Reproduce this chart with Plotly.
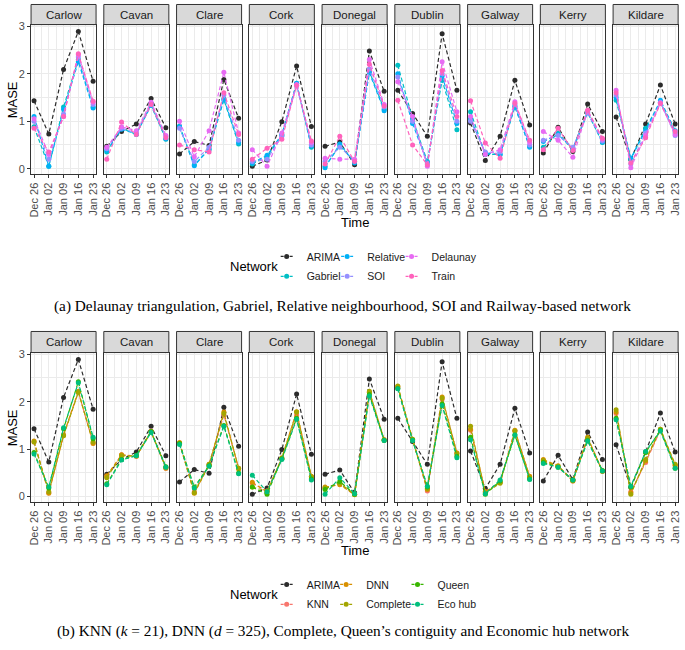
import plotly.graph_objects as go

W, H = 685, 650

DATES = ["Dec 26", "Jan 02", "Jan 09", "Jan 16", "Jan 23"]
DAY = [0, 7, 14, 21, 28]
COUNTIES = ["Carlow", "Cavan", "Clare", "Cork", "Donegal", "Dublin", "Galway", "Kerry", "Kildare"]

# ---- values (rows follow COUNTIES, columns follow DATES) ----
ARIMA = [
    [1.43, 0.73, 2.09, 2.89, 1.84],
    [0.47, 0.78, 0.94, 1.48, 0.86],
    [0.31, 0.57, 0.49, 1.88, 1.06],
    [0.05, 0.18, 0.99, 2.16, 0.89],
    [0.47, 0.56, 0.08, 2.48, 1.63],
    [1.65, 1.16, 0.68, 2.84, 1.65],
    [0.96, 0.17, 0.68, 1.86, 0.92],
    [0.33, 0.87, 0.36, 1.36, 0.78],
    [1.09, 0.19, 0.94, 1.76, 0.94],
]
GABRIEL = [
    [0.88, 0.05, 1.30, 2.30, 1.30],
    [0.35, 0.85, 0.72, 1.35, 0.62],
    [0.90, 0.08, 0.40, 1.45, 0.52],
    [0.10, 0.25, 0.70, 1.80, 0.45],
    [0.05, 0.48, 0.15, 2.05, 1.25],
    [2.18, 1.05, 0.15, 1.86, 0.82],
    [1.20, 0.30, 0.30, 1.30, 0.47],
    [0.45, 0.75, 0.40, 1.18, 0.55],
    [1.44, 0.20, 0.85, 1.40, 0.75],
]
RELATIVE = [
    [1.10, 0.05, 1.25, 2.25, 1.28],
    [0.38, 0.83, 0.73, 1.33, 0.63],
    [0.88, 0.06, 0.42, 1.47, 0.55],
    [0.12, 0.28, 0.72, 1.80, 0.48],
    [0.02, 0.52, 0.12, 2.02, 1.22],
    [2.00, 0.95, 0.12, 1.95, 0.95],
    [1.05, 0.33, 0.30, 1.32, 0.45],
    [0.57, 0.72, 0.42, 1.20, 0.56],
    [1.50, 0.22, 0.80, 1.44, 0.80],
]
SOI = [
    [1.00, 0.20, 1.15, 2.35, 1.35],
    [0.42, 0.85, 0.75, 1.38, 0.68],
    [0.85, 0.15, 0.45, 1.55, 0.60],
    [0.15, 0.20, 0.68, 1.75, 0.50],
    [0.15, 0.45, 0.18, 2.10, 1.30],
    [1.93, 1.00, 0.10, 2.00, 1.00],
    [1.00, 0.35, 0.35, 1.35, 0.50],
    [0.60, 0.70, 0.45, 1.17, 0.58],
    [1.55, 0.10, 0.75, 1.40, 0.70],
]
DELAUNAY = [
    [1.05, 0.30, 1.10, 2.40, 1.40],
    [0.45, 0.88, 0.80, 1.40, 0.70],
    [1.00, 0.25, 0.80, 2.03, 0.75],
    [0.40, 0.05, 0.75, 1.77, 0.55],
    [0.22, 0.20, 0.20, 2.30, 1.35],
    [1.83, 1.10, 0.05, 2.25, 1.20],
    [1.10, 0.30, 0.40, 1.41, 0.55],
    [0.78, 0.60, 0.24, 1.22, 0.62],
    [1.65, 0.02, 0.70, 1.38, 0.72],
]
TRAIN = [
    [0.85, 0.35, 1.10, 2.42, 1.42],
    [0.20, 0.98, 0.72, 1.35, 0.65],
    [0.50, 0.40, 0.35, 1.60, 0.72],
    [0.20, 0.43, 0.62, 1.75, 0.58],
    [0.10, 0.68, 0.15, 2.20, 1.32],
    [1.44, 0.50, 0.08, 2.07, 1.10],
    [1.43, 0.54, 0.22, 1.38, 0.60],
    [0.40, 0.85, 0.38, 1.23, 0.64],
    [1.60, 0.12, 0.65, 1.37, 0.78],
]
KNN = [
    [1.15, 0.08, 1.30, 2.20, 1.13],
    [0.42, 0.88, 0.85, 1.38, 0.60],
    [1.13, 0.10, 0.68, 1.72, 0.60],
    [0.28, 0.12, 0.80, 1.72, 0.42],
    [0.18, 0.27, 0.05, 2.20, 1.20],
    [2.30, 1.20, 0.12, 2.05, 0.92],
    [1.40, 0.10, 0.30, 1.38, 0.42],
    [0.75, 0.63, 0.33, 1.22, 0.54],
    [1.75, 0.10, 0.72, 1.40, 0.65],
]
DNN = [
    [1.17, 0.07, 1.30, 2.22, 1.12],
    [0.44, 0.88, 0.85, 1.37, 0.60],
    [1.14, 0.07, 0.66, 1.78, 0.58],
    [0.30, 0.10, 0.82, 1.79, 0.43],
    [0.20, 0.25, 0.04, 2.20, 1.19],
    [2.32, 1.20, 0.15, 2.10, 0.92],
    [1.42, 0.10, 0.30, 1.40, 0.43],
    [0.78, 0.65, 0.33, 1.25, 0.53],
    [1.78, 0.08, 0.75, 1.42, 0.66],
]
COMPLETE = [
    [1.15, 0.10, 1.28, 2.20, 1.15],
    [0.40, 0.86, 0.86, 1.36, 0.62],
    [1.12, 0.08, 0.68, 1.75, 0.60],
    [0.20, 0.12, 0.80, 1.78, 0.42],
    [0.18, 0.28, 0.05, 2.22, 1.20],
    [2.33, 1.21, 0.17, 2.08, 0.90],
    [1.48, 0.08, 0.28, 1.38, 0.40],
    [0.76, 0.64, 0.34, 1.23, 0.54],
    [1.83, 0.05, 0.78, 1.42, 0.68],
]
QUEEN = [
    [0.93, 0.18, 1.43, 2.42, 1.22],
    [0.27, 0.78, 0.87, 1.37, 0.63],
    [1.12, 0.20, 0.65, 1.50, 0.50],
    [0.20, 0.05, 0.80, 1.65, 0.37],
    [0.15, 0.32, 0.05, 2.15, 1.18],
    [2.28, 1.19, 0.20, 1.95, 0.85],
    [1.25, 0.05, 0.33, 1.30, 0.37],
    [0.72, 0.62, 0.35, 1.18, 0.55],
    [1.65, 0.20, 0.93, 1.40, 0.60],
]
ECO_HUB = [
    [0.90, 0.20, 1.45, 2.40, 1.25],
    [0.25, 0.77, 0.86, 1.35, 0.62],
    [1.10, 0.18, 0.64, 1.48, 0.48],
    [0.45, 0.10, 0.78, 1.63, 0.35],
    [0.05, 0.40, 0.06, 2.12, 1.18],
    [2.27, 1.18, 0.22, 1.92, 0.82],
    [1.20, 0.06, 0.35, 1.30, 0.36],
    [0.70, 0.62, 0.35, 1.17, 0.54],
    [1.62, 0.22, 0.95, 1.38, 0.60],
]

SERIES_A = [("ARIMA", ARIMA, "#2b2b2b"), ("Gabriel", GABRIEL, "#00BFC4"),
            ("Relative", RELATIVE, "#00B0F6"), ("SOI", SOI, "#9590FF"),
            ("Delaunay", DELAUNAY, "#E76BF3"), ("Train", TRAIN, "#FF62BC")]
SERIES_B = [("ARIMA", ARIMA, "#2b2b2b"), ("KNN", KNN, "#F8766D"),
            ("DNN", DNN, "#D89000"), ("Complete", COMPLETE, "#A3A500"),
            ("Queen", QUEEN, "#39B600"), ("Eco hub", ECO_HUB, "#00BF7D")]

# legend layout: (name, text-start px, row y px)
LEG_A = [("ARIMA", 307, 254), ("Gabriel", 307, 274), ("Relative", 368, 254),
         ("SOI", 368, 274), ("Delaunay", 433, 254), ("Train", 433, 274)]
LEG_B = [("ARIMA", 307, 584), ("KNN", 307, 604), ("DNN", 367, 584),
         ("Complete", 367, 604), ("Queen", 439, 584), ("Eco hub", 439, 604)]

SANS = "Liberation Sans, Arial, sans-serif"
SERIF = "Liberation Serif, Times New Roman, serif"

PX0, STEP, PW = 28.3, 73.4, 65.6
YR = [-0.12, 3.035]
XR = [-1.4, 29.4]

PANELS = [
    dict(series=SERIES_A, legend=LEG_A, strip_top=0.5, top=20.7, bottom=171.4,
         title_y=220, net_y=264, cap_y=304,
         caption="(a) Delaunay triangulation, Gabriel, Relative neighbourhood, SOI and Railway-based network"),
    dict(series=SERIES_B, legend=LEG_B, strip_top=329.5, top=350.7, bottom=501.4,
         title_y=550, net_y=594, cap_y=631,
         caption="(b) KNN (<i>k</i> = 21), DNN (<i>d</i> = 325), Complete, Queen\u2019s contiguity and Economic hub network"),
]

fig = go.Figure()
layout = dict(width=W, height=H, margin=dict(l=0, r=0, t=0, b=0),
              paper_bgcolor="white", plot_bgcolor="white",
              font=dict(family=SANS, color="#000000"), showlegend=True)
shapes, annotations = [], []

def px_x(v):
    return v / W

def px_y(v):
    return 1 - v / H

LINE_DASH = "4px,2.5px"
KEY_DASH = "0px,9px,3px,6px,3px,9px"

leg_idx = 0
for p, panel in enumerate(PANELS):
    for i, county in enumerate(COUNTIES):
        n = p * 9 + i + 1
        sfx = "" if n == 1 else str(n)
        x0 = PX0 + i * STEP
        x1 = x0 + PW
        layout["xaxis" + sfx] = dict(
            domain=[px_x(x0), px_x(x1)], range=XR, anchor="y" + sfx,
            tickmode="array", tickvals=DAY, ticktext=DATES, tickangle=-90,
            tickfont=dict(size=11, color="#4D4D4D", family=SANS),
            ticks="outside", ticklen=3, tickcolor="#333333",
            showgrid=True, gridcolor="#EBEBEB", gridwidth=1.1,
            minor=dict(tickmode="linear", tick0=3.5, dtick=7, showgrid=True,
                       gridcolor="#EBEBEB", gridwidth=0.55, ticks=""),
            showline=True, linecolor="#333333", linewidth=1, mirror=True,
            zeroline=False, fixedrange=True)
        layout["yaxis" + sfx] = dict(
            domain=[px_y(panel["bottom"]), px_y(panel["top"])], range=YR,
            anchor="x" + sfx, tickvals=[0, 1, 2, 3],
            showticklabels=(i == 0), ticks="outside" if i == 0 else "",
            ticklen=3, tickcolor="#333333",
            tickfont=dict(size=11, color="#4D4D4D", family=SANS),
            showgrid=True, gridcolor="#EBEBEB", gridwidth=1.1,
            minor=dict(tickmode="linear", tick0=0.5, dtick=1, showgrid=True,
                       gridcolor="#EBEBEB", gridwidth=0.55, ticks=""),
            showline=True, linecolor="#333333", linewidth=1, mirror=True,
            zeroline=False, fixedrange=True)
        # facet strip
        shapes.append(dict(type="rect", xref="paper", yref="paper",
                           x0=px_x(x0), x1=px_x(x1),
                           y0=px_y(panel["top"]), y1=px_y(panel["strip_top"]),
                           fillcolor="#D9D9D9", line=dict(color="#333333", width=1)))
        annotations.append(dict(text=county, xref="paper", yref="paper",
                                x=px_x((x0 + x1) / 2),
                                y=px_y((panel["top"] + panel["strip_top"]) / 2),
                                xanchor="center", yanchor="middle", showarrow=False,
                                font=dict(size=11.5, color="#1A1A1A", family=SANS)))
        for name, data, color in panel["series"]:
            fig.add_trace(go.Scatter(
                x=DAY, y=data[i], mode="lines+markers", name=name,
                xaxis="x" + sfx, yaxis="y" + sfx, showlegend=False,
                line=dict(color=color, width=1.2, dash=LINE_DASH),
                marker=dict(color=color, size=5), hoverinfo="skip"))

    # legends (one per entry so the 2x3 grid matches)
    colors = {nm: c for nm, _, c in panel["series"]}
    for name, tx, ty in panel["legend"]:
        leg_idx += 1
        lkey = "legend" if leg_idx == 1 else "legend%d" % leg_idx
        fig.add_trace(go.Scatter(
            x=[None], y=[None], mode="lines+markers", name=name,
            legend=lkey, showlegend=True,
            line=dict(color=colors[name], width=1.2, dash=KEY_DASH),
            marker=dict(color=colors[name], size=5)))
        layout[lkey] = dict(x=px_x(tx - 41), y=px_y(ty), xanchor="left", yanchor="middle",
                            bgcolor="rgba(0,0,0,0)", borderwidth=0,
                            font=dict(size=10.5, color="#1A1A1A", family=SANS),
                            itemwidth=30, tracegroupgap=0)
    annotations.append(dict(text="Network", xref="paper", yref="paper",
                            x=px_x(279), y=px_y(panel["net_y"]),
                            xanchor="right", yanchor="middle", showarrow=False,
                            font=dict(size=13, color="#000000", family=SANS)))
    # axis titles
    annotations.append(dict(text="MASE", xref="paper", yref="paper",
                            x=px_x(10), y=px_y((panel["top"] + panel["bottom"]) / 2),
                            xanchor="center", yanchor="middle", textangle=-90,
                            showarrow=False,
                            font=dict(size=13, color="#000000", family=SANS)))
    annotations.append(dict(text="Time", xref="paper", yref="paper",
                            x=px_x(355), y=px_y(panel["title_y"]),
                            xanchor="center", yanchor="middle", showarrow=False,
                            font=dict(size=13, color="#000000", family=SANS)))
    annotations.append(dict(text=panel["caption"], xref="paper", yref="paper",
                            x=px_x(342.5), y=px_y(panel["cap_y"]),
                            xanchor="center", yanchor="middle", showarrow=False,
                            font=dict(size=15.3, color="#000000", family=SERIF)))

layout["shapes"] = shapes
layout["annotations"] = annotations
fig.update_layout(**layout)
fig.write_html("out.html", config={"displayModeBar": False},
               post_script="document.body.style.margin='0';document.body.style.overflow='hidden';")
